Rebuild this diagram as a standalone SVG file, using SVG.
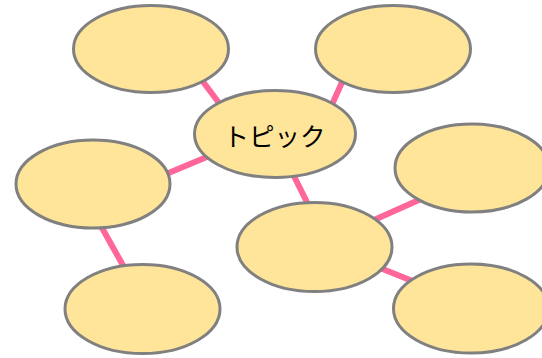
<svg xmlns="http://www.w3.org/2000/svg" width="542" height="358" viewBox="0 0 542 358">
<style>
.n{fill:#FFE599;stroke:#808080;stroke-width:3}
.c{stroke:#FF6699;stroke-width:6;fill:none}
.t{font-family:"Noto Sans CJK JP","Noto Sans",sans-serif;font-size:25.5px;fill:#000;text-anchor:middle;dominant-baseline:central}
</style>
<g id="connectors">
<line class="c" x1="186.75" y1="60" x2="228" y2="115"/>
<line class="c" x1="352" y1="60" x2="327.3" y2="115"/>
<line class="c" x1="140" y1="185" x2="230" y2="147.2"/>
<line class="c" x1="283.35" y1="155" x2="318.35" y2="225"/>
<line class="c" x1="350" y1="230.7" x2="440" y2="190.5"/>
<line class="c" x1="350" y1="256" x2="440" y2="292"/>
<line class="c" x1="89.2" y1="205" x2="136.8" y2="290"/>
</g>
<g id="n1"><ellipse class="n" cx="151" cy="49" rx="77.5" ry="43.5"/></g>
<g id="n2"><ellipse class="n" cx="393" cy="49" rx="77.5" ry="43.5"/></g>
<g id="topic"><ellipse class="n" cx="275" cy="134" rx="80.5" ry="43.5"/><text class="t" x="274.5" y="134">トピック</text></g>
<g id="n3"><ellipse class="n" cx="93" cy="184" rx="77" ry="44"/></g>
<g id="n4"><ellipse class="n" cx="472" cy="168" rx="77" ry="44"/></g>
<g id="n5"><ellipse class="n" cx="314.5" cy="247" rx="77.5" ry="44.5"/></g>
<g id="n6"><ellipse class="n" cx="142.5" cy="309" rx="77.5" ry="44.5"/></g>
<g id="n7"><ellipse class="n" cx="471" cy="308.5" rx="77.5" ry="44.5"/></g>
</svg>
